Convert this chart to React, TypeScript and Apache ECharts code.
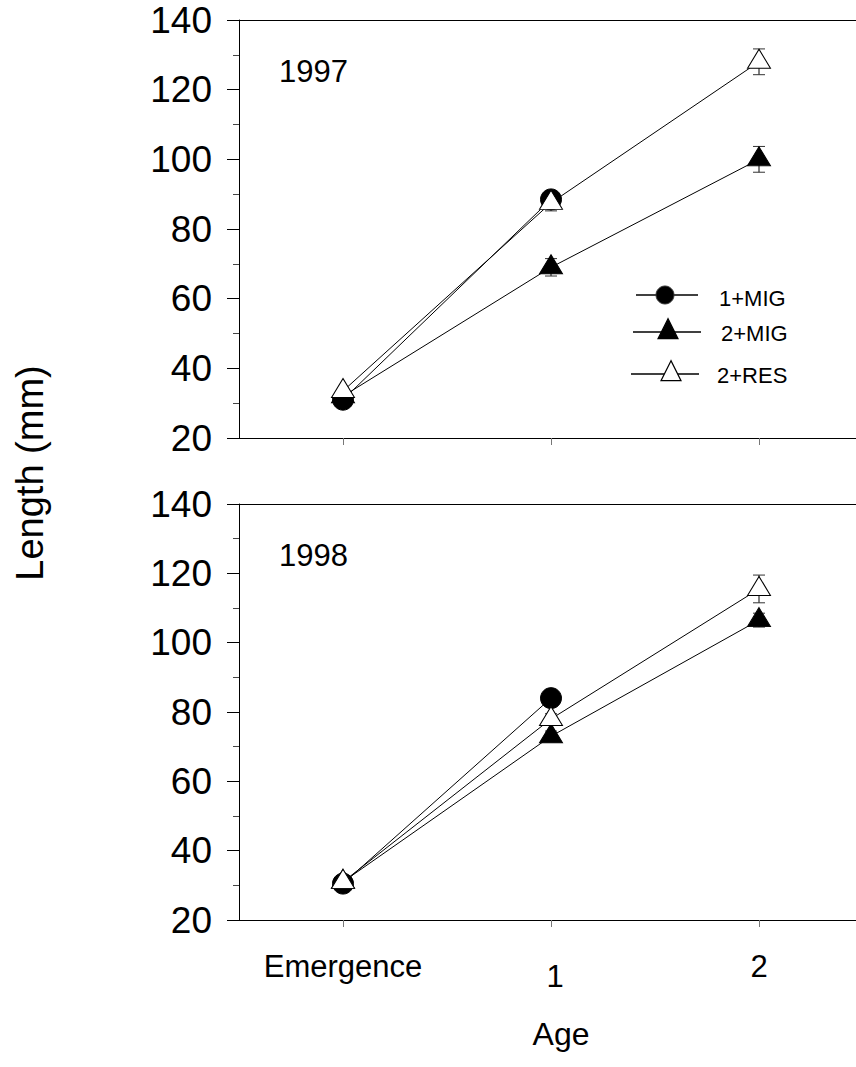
import React, { useEffect, useRef } from "react";
import * as echarts from "echarts";

// Categories on the x axis
const ages = ["Emergence", "1", "2"];
const groupNames = ["1+MIG", "2+MIG", "2+RES"];
const yMin = 20;
const yMax = 140;
const yStep = 20;

// 1997 mean length (mm) and standard error
const len1997Mig1 = [31, 88.5, null];
const len1997Mig2 = [32, 69, 100];
const len1997Res2 = [33.5, 87.5, 128];
const se1997Mig1 = [0.5, 2.3, null];
const se1997Mig2 = [0.5, 2.5, 3.7];
const se1997Res2 = [0.5, 2.3, 3.7];

// 1998 mean length (mm) and standard error
const len1998Mig1 = [30.5, 84, null];
const len1998Mig2 = [31, 73, 106.5];
const len1998Res2 = [31, 78, 115.5];
const se1998Mig1 = [0.5, 1.5, null];
const se1998Mig2 = [0.5, 1.5, 2];
const se1998Res2 = [0.5, 1.5, 4];

const FONT = "'Liberation Sans', Arial, Helvetica, sans-serif";

type Num = number | null;

function errData(vals: Num[], se: Num[]) {
  const out: number[][] = [];
  vals.forEach((v, i) => {
    const e = se[i];
    if (v != null && e != null) out.push([i, v - e, v + e]);
  });
  return out;
}

const markerStyles = [
  { symbol: "circle", symbolSize: 21, symbolOffset: [0, 0], itemStyle: { color: "#000", borderColor: "#000", borderWidth: 1 } },
  { symbol: "triangle", symbolSize: [23, 19], symbolOffset: [0, -3], itemStyle: { color: "#000", borderColor: "#000", borderWidth: 1 } },
  { symbol: "triangle", symbolSize: [23, 19], symbolOffset: [0, -3], itemStyle: { color: "#fff", borderColor: "#000", borderWidth: 1 } },
];

export default function App() {
  const ref = useRef<HTMLDivElement>(null);

  useEffect(() => {
    if (!ref.current) return;
    const chart = echarts.init(ref.current, undefined, { renderer: "svg" });

    const panels = [
      { vals: [len1997Mig1, len1997Mig2, len1997Res2], se: [se1997Mig1, se1997Mig2, se1997Res2] },
      { vals: [len1998Mig1, len1998Mig2, len1998Res2], se: [se1998Mig1, se1998Mig2, se1998Res2] },
    ];

    // the frame runs past the right edge of the page
    const grids = [
      { left: 239, top: 20, width: 624, height: 418 },
      { left: 239, top: 504, width: 624, height: 416 },
    ];

    const xAxes: any[] = [];
    const yAxes: any[] = [];
    grids.forEach((_, g) => {
      xAxes.push({
        gridIndex: g,
        type: "category",
        data: ages,
        boundaryGap: true,
        position: "bottom",
        axisLine: { show: true, lineStyle: { color: "#000", width: 1 } },
        axisTick: { show: true, alignWithLabel: true, interval: 0, length: 7, lineStyle: { color: "#777", width: 1 } },
        axisLabel: {
          show: g === 1,
          interval: 0,
          hideOverlap: false,
          fontSize: 31,
          fontFamily: FONT,
          color: "#000",
          margin: 31,
          formatter: (v: string) => (v === "1" ? "{low|1}" : v),
          rich: { low: { fontSize: 31, fontFamily: FONT, color: "#000", padding: [10, 0, 0, 8] } },
        },
        splitLine: { show: false },
      });
      yAxes.push({
        gridIndex: g,
        type: "value",
        min: yMin,
        max: yMax,
        interval: yStep,
        axisLine: { show: true, lineStyle: { color: "#000", width: 1 } },
        axisTick: { show: true, length: 12, lineStyle: { color: "#000", width: 1 } },
        minorTick: { show: true, splitNumber: 2, length: 6, lineStyle: { color: "#444", width: 1 } },
        splitLine: { show: false },
        minorSplitLine: { show: false },
        axisLabel: { fontSize: 37, fontFamily: FONT, color: "#000", margin: 27, padding: [10, 0, 0, 0] },
      });
    });
    // top frame lines
    grids.forEach((_, g) => {
      xAxes.push({
        gridIndex: g,
        type: "category",
        data: ages,
        position: "top",
        axisLine: { show: true, lineStyle: { color: "#000", width: 1 } },
        axisTick: { show: false },
        axisLabel: { show: false },
        splitLine: { show: false },
      });
    });

    const series: any[] = [];
    panels.forEach((p, g) => {
      p.vals.forEach((vals, k) => {
        series.push({
          type: "custom",
          name: groupNames[k] + " SE",
          xAxisIndex: g,
          yAxisIndex: g,
          z: 1,
          silent: true,
          data: errData(vals, p.se[k]),
          encode: { x: 0, y: [1, 2] },
          renderItem: (_params: any, api: any) => {
            const x = api.value(0);
            const top = api.coord([x, api.value(2)]);
            const bot = api.coord([x, api.value(1)]);
            const w = 6;
            const st = { stroke: "#000", lineWidth: 1 };
            return {
              type: "group",
              children: [
                { type: "line", shape: { x1: top[0], y1: top[1], x2: bot[0], y2: bot[1] }, style: st },
                { type: "line", shape: { x1: top[0] - w, y1: top[1], x2: top[0] + w, y2: top[1] }, style: { stroke: "#333", lineWidth: 1 } },
                { type: "line", shape: { x1: bot[0] - w, y1: bot[1], x2: bot[0] + w, y2: bot[1] }, style: { stroke: "#333", lineWidth: 1 } },
              ],
            };
          },
        });
      });
      p.vals.forEach((vals, k) => {
        const m = markerStyles[k];
        series.push({
          type: "line",
          name: groupNames[k],
          xAxisIndex: g,
          yAxisIndex: g,
          z: 3 + k,
          data: vals,
          connectNulls: false,
          showAllSymbol: true,
          symbol: m.symbol,
          symbolSize: m.symbolSize,
          symbolOffset: m.symbolOffset,
          itemStyle: m.itemStyle,
          lineStyle: { color: "#000", width: 1 },
          emphasis: { disabled: true },
          silent: true,
        });
      });
    });

    const legendRows = [
      { y: 295, x1: 636, x2: 698, mx: 665, text: "1+MIG", tx: 719, ty: 298 },
      { y: 332, x1: 633, x2: 701, mx: 668, text: "2+MIG", tx: 721, ty: 333 },
      { y: 374, x1: 631, x2: 699, mx: 671, text: "2+RES", tx: 717, ty: 375 },
    ];
    const legendGraphics: any[] = [];
    legendRows.forEach((r, k) => {
      legendGraphics.push({ type: "line", shape: { x1: r.x1, y1: r.y, x2: r.x2, y2: r.y }, style: { stroke: "#000", lineWidth: 1.5 } });
      if (k === 0) {
        legendGraphics.push({ type: "circle", shape: { cx: r.mx, cy: r.y, r: 9 }, style: { fill: "#000", stroke: "#333", lineWidth: 1 } });
      } else {
        const h = 20;
        const w = 20;
        const apex = r.y - (2 * h) / 3;
        const base = r.y + h / 3;
        legendGraphics.push({
          type: "polygon",
          shape: { points: [[r.mx, apex], [r.mx - w / 2, base], [r.mx + w / 2, base]] },
          style: { fill: k === 1 ? "#000" : "#fff", stroke: "#000", lineWidth: 1.2 },
        });
      }
      legendGraphics.push({
        type: "text",
        x: r.tx,
        y: r.ty,
        style: { text: r.text, fontSize: 22, fontFamily: FONT, fill: "#000", textAlign: "left", textVerticalAlign: "middle" },
      });
    });

    chart.setOption({
      animation: false,
      backgroundColor: "#fff",
      grid: grids.map((g) => ({ ...g, containLabel: false })),
      xAxis: xAxes,
      yAxis: yAxes,
      series,
      graphic: [
        { type: "text", x: 279, y: 87, style: { text: "1997", fontSize: 31, fontFamily: FONT, fill: "#000", textAlign: "left", textVerticalAlign: "bottom" } },
        { type: "text", x: 279, y: 571, style: { text: "1998", fontSize: 31, fontFamily: FONT, fill: "#000", textAlign: "left", textVerticalAlign: "bottom" } },
        {
          type: "text",
          x: 30,
          y: 473,
          rotation: Math.PI / 2,
          style: { text: "Length (mm)", fontSize: 38, fontFamily: FONT, fill: "#000", textAlign: "center", textVerticalAlign: "middle" },
        },
        { type: "text", x: 561, y: 1034, style: { text: "Age", fontSize: 32, fontFamily: FONT, fill: "#000", textAlign: "center", textVerticalAlign: "middle" } },
        ...legendGraphics,
      ],
    });

    return () => chart.dispose();
  }, []);

  return (
    <div style={{ position: "absolute", left: 0, top: 0, width: 856, height: 1067, overflow: "hidden", background: "#fff" }}>
      <div ref={ref} style={{ width: 880, height: 1067 }} />
    </div>
  );
}
